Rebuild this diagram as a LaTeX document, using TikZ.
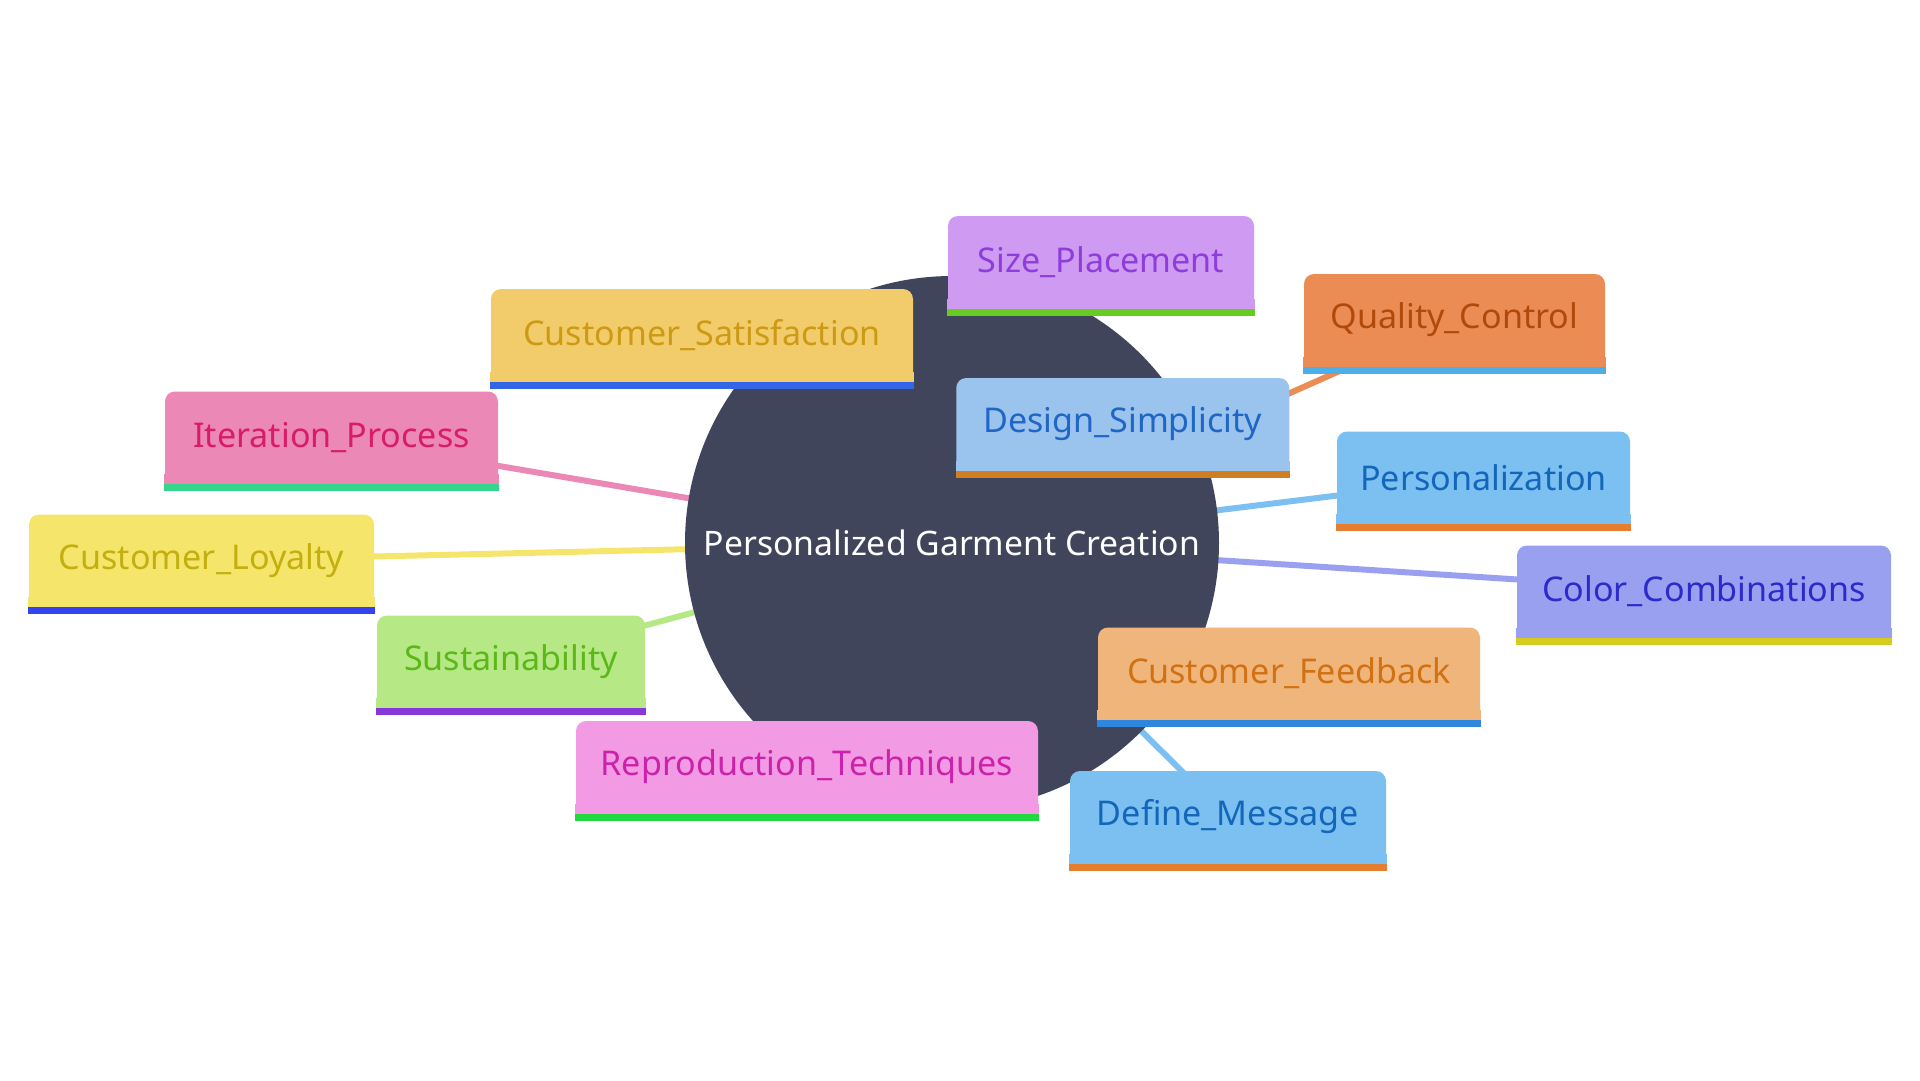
\documentclass[tikz,border=0pt]{standalone}
\usepackage{fontspec}
\setmainfont{Noto Sans}
\usepackage{tikz}
\definecolor{slate}{HTML}{41455C}
\definecolor{lilac}{HTML}{CE9AF2}
\definecolor{violet}{HTML}{8E3DDB}
\definecolor{leafgreen}{HTML}{66CC22}
\definecolor{tangerine}{HTML}{EC8C55}
\definecolor{rust}{HTML}{B04A0C}
\definecolor{skyline}{HTML}{4DAEE8}
\definecolor{mustard}{HTML}{F2CC6B}
\definecolor{goldtext}{HTML}{CC9A14}
\definecolor{royal}{HTML}{3366E6}
\definecolor{powder}{HTML}{9AC3EE}
\definecolor{cobalt}{HTML}{1F66C6}
\definecolor{ochre}{HTML}{D07E22}
\definecolor{rose}{HTML}{EC88B5}
\definecolor{raspberry}{HTML}{D81B6A}
\definecolor{mint}{HTML}{33D68A}
\definecolor{azure}{HTML}{7BC0F0}
\definecolor{navyblue}{HTML}{1466BB}
\definecolor{pumpkin}{HTML}{E67E30}
\definecolor{lemon}{HTML}{F5E56B}
\definecolor{olive}{HTML}{C4AF10}
\definecolor{ultramarine}{HTML}{3344EE}
\definecolor{periwinkle}{HTML}{9AA0F0}
\definecolor{indigo}{HTML}{2B2BCC}
\definecolor{citron}{HTML}{D6CC20}
\definecolor{lime}{HTML}{B7E886}
\definecolor{grass}{HTML}{5CB818}
\definecolor{grape}{HTML}{8838D8}
\definecolor{peach}{HTML}{F0B57B}
\definecolor{amber}{HTML}{D07214}
\definecolor{ocean}{HTML}{2E86DD}
\definecolor{orchid}{HTML}{F39AE4}
\definecolor{magenta}{HTML}{CC22AA}
\definecolor{emerald}{HTML}{22D840}
\pgfdeclarelayer{edges}
\pgfsetlayers{edges,main}

\begin{document}
\begin{tikzpicture}[x=0.1mm, y=-0.1mm,
    leaf/.style={rectangle, rounded corners=1mm, minimum height=9.2mm, inner sep=0pt, font=\fontsize{9.7}{11}\selectfont},
    twig/.style={line width=0.6mm}]

\useasboundingbox (0,0) rectangle (1920,1080);

% Root
\node[circle, fill=slate, minimum size=53.4mm, inner sep=0pt, text=white, font=\fontsize{9.6}{11}\selectfont] (root) at (952,543) {Personalized Garment Creation};

% Branches
\node[leaf, fill=lilac, text=violet, minimum width=30.6mm] (size) at (1101,262) {Size\_Placement};
\node[leaf, fill=tangerine, text=rust, minimum width=30.1mm] (quality) at (1454.5,320) {Quality\_Control};
\node[leaf, fill=mustard, text=goldtext, minimum width=42.2mm] (satisfaction) at (702,335) {Customer\_Satisfaction};
\node[leaf, fill=powder, text=cobalt, minimum width=33.3mm] (design) at (1122.75,424) {Design\_Simplicity};
\node[leaf, fill=rose, text=raspberry, minimum width=33.3mm] (iteration) at (331.5,437.5) {Iteration\_Process};
\node[leaf, fill=azure, text=navyblue, minimum width=29.3mm] (personal) at (1483.5,477.5) {Personalization};
\node[leaf, fill=lemon, text=olive, minimum width=34.5mm] (loyalty) at (201.5,560.5) {Customer\_Loyalty};
\node[leaf, fill=periwinkle, text=indigo, minimum width=37.4mm] (colors) at (1704,591.5) {Color\_Combinations};
\node[leaf, fill=lime, text=grass, minimum width=26.8mm] (sustain) at (511,661.5) {Sustainability};
\node[leaf, fill=peach, text=amber, minimum width=38.2mm] (feedback) at (1289,673.5) {Customer\_Feedback};
\node[leaf, fill=orchid, text=magenta, minimum width=46.2mm] (repro) at (807,767) {Reproduction\_Techniques};
\node[leaf, fill=azure, text=navyblue, minimum width=31.6mm] (message) at (1228,817) {Define\_Message};

% Underlines
\foreach \n/\fc/\uc in {size/lilac/leafgreen, quality/tangerine/skyline, satisfaction/mustard/royal,
    design/powder/ochre, iteration/rose/mint, personal/azure/pumpkin, loyalty/lemon/ultramarine,
    colors/periwinkle/citron, sustain/lime/grape, feedback/peach/ocean, repro/orchid/emerald,
    message/azure/pumpkin}
{
    \fill[\fc] (\n.south west) rectangle ([yshift=1mm]\n.south east);
    \fill[\uc] (\n.south west) rectangle ([yshift=-0.7mm]\n.south east);
}

% Edges
\begin{pgfonlayer}{edges}
\foreach \n/\c in {size/lilac, quality/tangerine, satisfaction/mustard, design/powder,
    iteration/rose, personal/azure, loyalty/lemon, colors/periwinkle, sustain/lime,
    feedback/peach, repro/orchid, message/azure}
{
    \draw[twig, \c] (root.center) -- (\n.center);
}
\end{pgfonlayer}

\end{tikzpicture}
\end{document}
